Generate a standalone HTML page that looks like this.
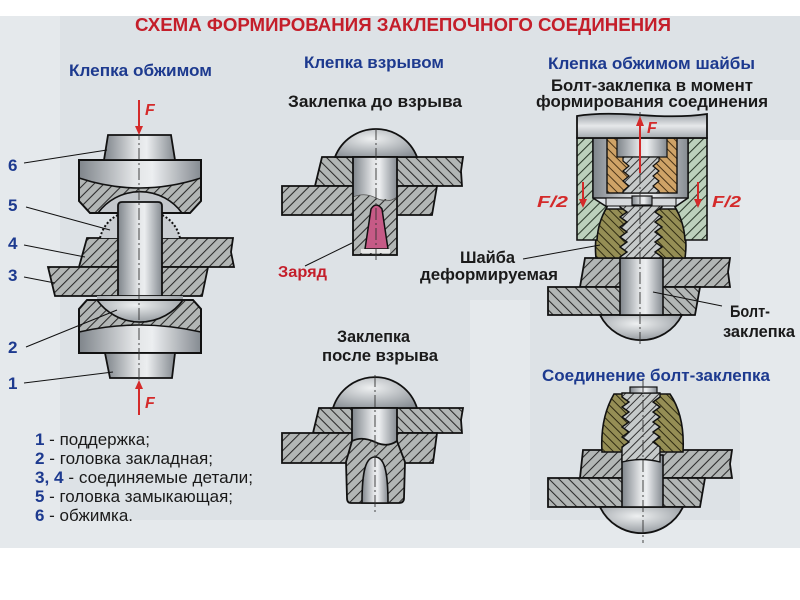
<!DOCTYPE html>
<html><head><meta charset="utf-8"><style>
html,body{margin:0;padding:0;background:#fff;}
svg{display:block;}
text{font-family:"Liberation Sans","DejaVu Sans",sans-serif;}
</style></head><body>
<svg width="800" height="600" viewBox="0 0 800 600" xmlns="http://www.w3.org/2000/svg">
<defs>
<pattern id="hA" width="7" height="7" patternUnits="userSpaceOnUse" patternTransform="rotate(45)"><rect width="7" height="7" fill="#b2b6b5"/><line x1="0.5" y1="0" x2="0.5" y2="7" stroke="#2a2a2a" stroke-width="1.1"/></pattern>
<pattern id="hB" width="7" height="7" patternUnits="userSpaceOnUse" patternTransform="rotate(-45)"><rect width="7" height="7" fill="#b2b6b5"/><line x1="0.5" y1="0" x2="0.5" y2="7" stroke="#2a2a2a" stroke-width="1.1"/></pattern>
<pattern id="hL" width="6" height="6" patternUnits="userSpaceOnUse" patternTransform="rotate(45)"><rect width="6" height="6" fill="#c6caca"/><line x1="0.5" y1="0" x2="0.5" y2="6" stroke="#333" stroke-width="1"/></pattern>
<pattern id="hG" width="7" height="7" patternUnits="userSpaceOnUse" patternTransform="rotate(45)"><rect width="7" height="7" fill="#bcd0bc"/><line x1="0.5" y1="0" x2="0.5" y2="7" stroke="#2b3a2b" stroke-width="1.1"/></pattern>
<pattern id="hT" width="6" height="6" patternUnits="userSpaceOnUse" patternTransform="rotate(-45)"><rect width="6" height="6" fill="#cfa367"/><line x1="0.5" y1="0" x2="0.5" y2="6" stroke="#4a3418" stroke-width="1"/></pattern>
<pattern id="hO" width="6" height="6" patternUnits="userSpaceOnUse" patternTransform="rotate(-45)"><rect width="6" height="6" fill="#958e55"/><line x1="0.5" y1="0" x2="0.5" y2="6" stroke="#2f2b12" stroke-width="1"/></pattern>
<linearGradient id="mg" x1="0" y1="0" x2="1" y2="0"><stop offset="0" stop-color="#7f858b"/><stop offset="0.45" stop-color="#e2e4e6"/><stop offset="0.6" stop-color="#eceef0"/><stop offset="1" stop-color="#858b91"/></linearGradient>
<linearGradient id="cg" x1="0" y1="0" x2="0" y2="1"><stop offset="0" stop-color="#9aa0a5"/><stop offset="0.5" stop-color="#e6e8ea"/><stop offset="1" stop-color="#a4aaaf"/></linearGradient>
<radialGradient id="dg" cx="0.45" cy="0.35" r="0.75"><stop offset="0" stop-color="#eef0f1"/><stop offset="1" stop-color="#8a9096"/></radialGradient>
</defs>

<!-- panel background -->
<rect x="0" y="16" width="800" height="532" fill="#dde2e6"/>
<g fill="#ffffff" opacity="0.25">
<rect x="0" y="16" width="60" height="532"/>
<rect x="470" y="300" width="60" height="240"/>
<rect x="740" y="140" width="60" height="400"/>
<rect x="0" y="520" width="800" height="28"/>
</g>

<!-- Title -->
<text x="135" y="31" font-size="18" font-weight="bold" fill="#c41e2a" textLength="536" lengthAdjust="spacingAndGlyphs">СХЕМА  ФОРМИРОВАНИЯ  ЗАКЛЕПОЧНОГО  СОЕДИНЕНИЯ</text>

<!-- Headings -->
<g font-size="16.5" font-weight="bold">
<text x="69" y="76" fill="#1d3a8f" textLength="143" lengthAdjust="spacingAndGlyphs">Клепка обжимом</text>
<text x="304" y="68" fill="#1d3a8f" textLength="140" lengthAdjust="spacingAndGlyphs">Клепка взрывом</text>
<text x="548" y="69" fill="#1d3a8f" textLength="207" lengthAdjust="spacingAndGlyphs">Клепка обжимом шайбы</text>
<text x="551" y="91" fill="#1a1a1a" textLength="202" lengthAdjust="spacingAndGlyphs">Болт-заклепка в момент</text>
<text x="536" y="107" fill="#1a1a1a" textLength="232" lengthAdjust="spacingAndGlyphs">формирования соединения</text>
<text x="288" y="107" fill="#1a1a1a" textLength="174" lengthAdjust="spacingAndGlyphs">Заклепка до взрыва</text>
<text x="337" y="342" fill="#1a1a1a" textLength="73" lengthAdjust="spacingAndGlyphs">Заклепка</text>
<text x="322" y="361" fill="#1a1a1a" textLength="116" lengthAdjust="spacingAndGlyphs">после взрыва</text>
<text x="542" y="381" fill="#1d3a8f" textLength="228" lengthAdjust="spacingAndGlyphs">Соединение болт-заклепка</text>
</g>

<!-- ===== LEFT DIAGRAM ===== -->
<polygon points="87,238 233,238 231,252 234,267 79,267" fill="url(#hA)" stroke="#111" stroke-width="1.8"/>
<polygon points="48,267 208,267 202,296 55,296" fill="url(#hA)" stroke="#111" stroke-width="1.8"/>
<path d="M100,238 Q104,222 118,215 V238 Z" fill="#c9cdd1"/>
<path d="M180,238 Q176,222 162,215 V238 Z" fill="#c9cdd1"/>
<path d="M100,238 Q104,222 118,215 M180,238 Q176,222 162,215" fill="none" stroke="#111" stroke-width="2" stroke-dasharray="2,2"/>

<path d="M79,160 H201 V178 Q139,198 79,178 Z" fill="url(#mg)"/>
<path d="M79,178 Q139,198 201,178 V201 L190,213 H182 A52 52 0 0 0 98,213 H90 L79,201 Z" fill="url(#hA)"/>
<path d="M98,213 A52 52 0 0 1 182,213 Z" fill="#c3c7cb"/>
<path d="M79,160 H201 V201 L190,213 H90 L79,201 Z" fill="none" stroke="#111" stroke-width="2"/>
<path d="M79,178 Q139,198 201,178 M98,213 A52 52 0 0 1 182,213" fill="none" stroke="#111" stroke-width="1.6"/>
<polygon points="108,135 171,135 175,160 104,160" fill="url(#mg)" stroke="#111" stroke-width="1.8"/>

<path d="M118,296 V206 Q118,202 122,202 H158 Q162,202 162,206 V296 Z" fill="url(#mg)" stroke="#111" stroke-width="1.8"/>

<path d="M79,332 Q139,318 201,332 V353 H79 Z" fill="url(#mg)"/>
<path d="M87,300 H97 A53 53 0 0 0 183,300 H193 L201,309 V332 Q139,318 79,332 V309 Z" fill="url(#hA)"/>
<path d="M97,296 H183 V300 A53 53 0 0 1 97,300 Z" fill="url(#dg)"/>
<path d="M87,300 H193 L201,309 V353 H79 V309 Z" fill="none" stroke="#111" stroke-width="2"/>
<path d="M79,332 Q139,318 201,332 M97,300 A53 53 0 0 0 183,300" fill="none" stroke="#111" stroke-width="1.6"/>
<polygon points="105,353 175,353 172,378 110,378" fill="url(#mg)" stroke="#111" stroke-width="1.8"/>

<line x1="139" y1="128" x2="139" y2="386" stroke="#333" stroke-width="0.9" stroke-dasharray="12,3,2,3"/>
<line x1="139" y1="100" x2="139" y2="128" stroke="#d42a2a" stroke-width="2"/>
<polygon points="139,135 135,126 143,126" fill="#d42a2a"/>
<text x="145" y="115" font-size="16" font-weight="bold" font-style="italic" fill="#d42a2a">F</text>
<line x1="139" y1="415" x2="139" y2="388" stroke="#d42a2a" stroke-width="2"/>
<polygon points="139,380 135,389 143,389" fill="#d42a2a"/>
<text x="145" y="408" font-size="16" font-weight="bold" font-style="italic" fill="#d42a2a">F</text>

<g stroke="#111" stroke-width="1">
<line x1="24" y1="163" x2="107" y2="150"/>
<line x1="26" y1="207" x2="110" y2="230"/>
<line x1="24" y1="245" x2="85" y2="257"/>
<line x1="24" y1="277" x2="55" y2="283"/>
<line x1="26" y1="347" x2="117" y2="310"/>
<line x1="24" y1="383" x2="113" y2="372"/>
</g>
<g font-size="17" font-weight="bold" fill="#1d3a8f">
<text x="8" y="171">6</text>
<text x="8" y="211">5</text>
<text x="8" y="249">4</text>
<text x="8" y="281">3</text>
<text x="8" y="353">2</text>
<text x="8" y="389">1</text>
</g>

<!-- legend -->
<g font-size="16.5" fill="#1a1a1a">
<text x="35" y="445" textLength="115" lengthAdjust="spacingAndGlyphs"><tspan fill="#1d3a8f" font-weight="bold">1</tspan> - поддержка;</text>
<text x="35" y="464" textLength="178" lengthAdjust="spacingAndGlyphs"><tspan fill="#1d3a8f" font-weight="bold">2</tspan> - головка закладная;</text>
<text x="35" y="483" textLength="218" lengthAdjust="spacingAndGlyphs"><tspan fill="#1d3a8f" font-weight="bold">3, 4</tspan> - соединяемые детали;</text>
<text x="35" y="502" textLength="198" lengthAdjust="spacingAndGlyphs"><tspan fill="#1d3a8f" font-weight="bold">5</tspan> - головка замыкающая;</text>
<text x="35" y="521" textLength="98" lengthAdjust="spacingAndGlyphs"><tspan fill="#1d3a8f" font-weight="bold">6</tspan> - обжимка.</text>
</g>

<!-- ===== MIDDLE TOP ===== -->
<polygon points="322,157 463,157 461,171 462,186 315,186" fill="url(#hB)" stroke="#111" stroke-width="1.8"/>
<polygon points="282,186 437,186 432,215 282,215" fill="url(#hA)" stroke="#111" stroke-width="1.8"/>
<path d="M335,157 A44 44 0 0 1 417,157 Z" fill="url(#dg)" stroke="#111" stroke-width="1.8"/>
<rect x="353" y="157" width="44" height="42" fill="url(#mg)"/>
<path d="M353,197 Q365,192 376,198 Q388,204 397,197 V255 H353 Z" fill="url(#hA)"/>
<path d="M353,197 Q365,192 376,198 Q388,204 397,197" fill="none" stroke="#555" stroke-width="0.8"/>
<path d="M365,249 L371,209 Q376,201 382,209 L388,249 Z" fill="#c65a86" stroke="#111" stroke-width="1.5"/>
<rect x="361" y="249" width="29" height="4" fill="#e8e8e8"/>
<rect x="353" y="157" width="44" height="98" fill="none" stroke="#111" stroke-width="1.8"/>
<line x1="376" y1="128" x2="376" y2="263" stroke="#333" stroke-width="0.9" stroke-dasharray="12,3,2,3"/>
<line x1="305" y1="266" x2="352" y2="243" stroke="#111" stroke-width="1"/>
<text x="278" y="277" font-size="16" font-weight="bold" fill="#c41e2a" textLength="49" lengthAdjust="spacingAndGlyphs">Заряд</text>

<!-- ===== MIDDLE BOTTOM ===== -->
<polygon points="319,408 463,408 461,420 462,433 313,433" fill="url(#hB)" stroke="#111" stroke-width="1.8"/>
<polygon points="282,433 437,433 433,463 282,463" fill="url(#hA)" stroke="#111" stroke-width="1.8"/>
<path d="M333,408 A44 44 0 0 1 417,408 Z" fill="url(#dg)" stroke="#111" stroke-width="1.8"/>
<rect x="352" y="408" width="45" height="38" fill="url(#mg)" stroke="#111" stroke-width="1.8"/>
<path d="M352,441 Q362,436 375,442 Q387,448 397,441 L405,462 L404,498 Q404,503 399,503 L351,503 Q347,503 347,498 L346,462 Z" fill="url(#hA)" stroke="#111" stroke-width="1.8"/>
<path d="M362,503 C362,470 366,457 375,457 C384,457 388,470 388,503 Z" fill="url(#mg)" stroke="#111" stroke-width="1.6"/>
<line x1="375" y1="375" x2="375" y2="514" stroke="#333" stroke-width="0.9" stroke-dasharray="12,3,2,3"/>

<!-- ===== RIGHT TOP ===== -->
<polygon points="585,258 730,258 728,272 730,287 580,287" fill="url(#hA)" stroke="#111" stroke-width="1.8"/>
<polygon points="548,287 700,287 695,315 548,315" fill="url(#hB)" stroke="#111" stroke-width="1.8"/>
<path d="M600,315 A46 46 0 0 0 682,315 Z" fill="url(#dg)" stroke="#111" stroke-width="1.8"/>
<rect x="620" y="258" width="43" height="57" fill="url(#mg)" stroke="#111" stroke-width="1.6"/>
<path d="M606,209 H676 Q689,230 685,258 H596 Q593,230 606,209 Z" fill="url(#hO)" stroke="#111" stroke-width="1.6"/>
<path d="M620,203 H662 V207 L655,212 L662,217 L655,222 L662,227 L655,232 L662,237 L655,242 L662,247 L655,252 L662,257 V258 H620 V257 L627,252 L620,247 L627,242 L620,237 L627,232 L620,227 L627,222 L620,217 L627,212 L620,207 Z" fill="url(#hL)" stroke="#111" stroke-width="1.4"/>
<path d="M577,138 H593 V198 L607,207 Q598,222 597,240 H577 Z" fill="url(#hG)" stroke="#111" stroke-width="1.6"/>
<path d="M707,138 H688 V198 L675,207 Q684,222 685,240 H707 Z" fill="url(#hG)" stroke="#111" stroke-width="1.6"/>
<rect x="593" y="138" width="95" height="60" fill="url(#mg)" stroke="#111" stroke-width="1.4"/>
<rect x="606" y="198" width="70" height="8" fill="#d6d9dc" stroke="#111" stroke-width="1"/>
<rect x="632" y="196" width="20" height="9" fill="url(#mg)" stroke="#111" stroke-width="1.2"/>
<rect x="607" y="138" width="70" height="55" fill="url(#hT)" stroke="#111" stroke-width="1.4"/>
<rect x="617" y="138" width="50" height="19" fill="url(#mg)" stroke="#111" stroke-width="1.2"/>
<path d="M623,157 H659 V161 L653,166 L659,171 L653,176 L659,181 L653,186 L659,191 V193 H623 V191 L629,186 L623,181 L629,176 L623,171 L629,166 L623,161 Z" fill="url(#hL)" stroke="#111" stroke-width="1.2"/>
<path d="M577,116 Q600,112 640,115 Q680,118 707,114 V138 H577 Z" fill="url(#cg)" stroke="#111" stroke-width="1.8"/>
<line x1="640" y1="112" x2="640" y2="345" stroke="#333" stroke-width="0.9" stroke-dasharray="12,3,2,3"/>
<line x1="640" y1="173" x2="640" y2="124" stroke="#d42a2a" stroke-width="2"/>
<polygon points="640,116 636,126 644,126" fill="#d42a2a"/>
<text x="647" y="133" font-size="16" font-weight="bold" font-style="italic" fill="#d42a2a">F</text>
<line x1="583" y1="182" x2="583" y2="200" stroke="#d42a2a" stroke-width="2"/>
<polygon points="583,208 579,199 587,199" fill="#d42a2a"/>
<line x1="698" y1="182" x2="698" y2="200" stroke="#d42a2a" stroke-width="2"/>
<polygon points="698,208 694,199 702,199" fill="#d42a2a"/>
<text x="537" y="207" font-size="16" font-weight="bold" font-style="italic" fill="#d42a2a" textLength="31" lengthAdjust="spacingAndGlyphs">F/2</text>
<text x="712" y="207" font-size="16" font-weight="bold" font-style="italic" fill="#d42a2a" textLength="29" lengthAdjust="spacingAndGlyphs">F/2</text>

<line x1="523" y1="259" x2="600" y2="245" stroke="#111" stroke-width="1"/>
<g font-size="16.5" font-weight="bold" fill="#1a1a1a">
<text x="460" y="263" textLength="55" lengthAdjust="spacingAndGlyphs">Шайба</text>
<text x="420" y="280" textLength="138" lengthAdjust="spacingAndGlyphs">деформируемая</text>
<text x="730" y="317" textLength="40" lengthAdjust="spacingAndGlyphs">Болт-</text>
<text x="723" y="337" textLength="72" lengthAdjust="spacingAndGlyphs">заклепка</text>
</g>
<line x1="722" y1="306" x2="653" y2="292" stroke="#111" stroke-width="1"/>

<!-- ===== RIGHT BOTTOM ===== -->
<polygon points="583,450 732,450 730,464 732,478 580,478" fill="url(#hA)" stroke="#111" stroke-width="1.8"/>
<polygon points="548,478 705,478 700,507 548,507" fill="url(#hB)" stroke="#111" stroke-width="1.8"/>
<path d="M600,507 A46 46 0 0 0 683,507 Z" fill="url(#dg)" stroke="#111" stroke-width="1.8"/>
<rect x="622" y="455" width="41" height="52" fill="url(#mg)" stroke="#111" stroke-width="1.6"/>
<path d="M614,394 H670 Q685,416 683,452 H602 Q600,418 614,394 Z" fill="url(#hO)" stroke="#111" stroke-width="1.6"/>
<path d="M622,393 H660 V397 L653,402 L660,407 L653,412 L660,417 L653,422 L660,427 L653,432 L660,437 L653,442 L660,447 V462 Q641,457 622,462 V447 L629,442 L622,437 L629,432 L622,427 L629,422 L622,417 L629,412 L622,407 L629,402 L622,397 Z" fill="url(#hL)" stroke="#111" stroke-width="1.4"/>
<rect x="630" y="387" width="27" height="6" fill="url(#mg)" stroke="#111" stroke-width="1.2"/>
<line x1="643" y1="380" x2="643" y2="543" stroke="#333" stroke-width="0.9" stroke-dasharray="12,3,2,3"/>
</svg>
</body></html>
